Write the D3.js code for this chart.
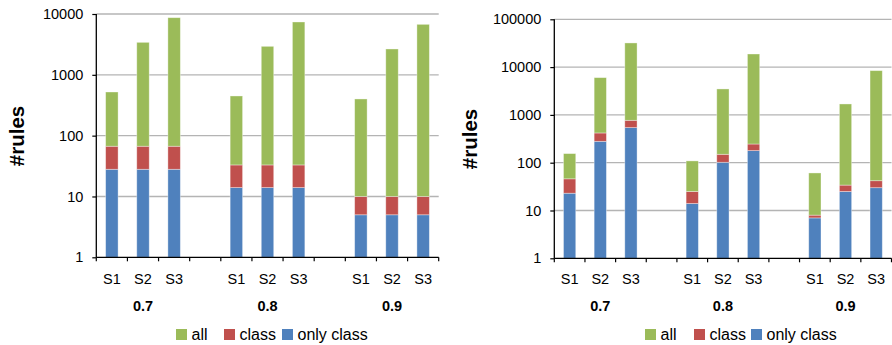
<!DOCTYPE html>
<html>
<head>
<meta charset="utf-8">
<script src="https://cdn.jsdelivr.net/npm/d3@7"></script>
<style>
  body { margin: 0; background: #fff; }
  svg text { font-family: "Liberation Sans", Arial, sans-serif; fill: #000; }
</style>
</head>
<body>
<div id="chart"></div>
<script>
//Categories
const thresholds = ["0.7", "0.8", "0.9"];
const strategies = ["S1", "S2", "S3"];
const seriesKeys = ["onlyClass", "classRules", "allRules"];
const seriesNames = { onlyClass: "only class", classRules: "class", allRules: "all" };
const legendOrder = ["allRules", "classRules", "onlyClass"];

//Left chart values (segments, stacked), order: 0.7 S1..S3, 0.8 S1..S3, 0.9 S1..S3
const leftOnlyClass = [28, 28, 28, 14, 14, 14, 5, 5, 5];
const leftClass = [39, 39, 39, 19, 19, 19, 5, 5, 5];
const leftAll = [455, 3353, 8633, 416, 2907, 7357, 391, 2650, 6750];
const leftTicks = [1, 10, 100, 1000, 10000];

//Right chart values
const rightOnlyClass = [23, 280, 542, 14, 102, 179, 7, 25, 30];
const rightClass = [23, 139, 229, 11, 48, 67, 1, 9, 12];
const rightAll = [109, 5601, 31229, 84, 3340, 18554, 53, 1659, 8388];
const rightTicks = [1, 10, 100, 1000, 10000, 100000];

//Colors
const color = d3.scaleOrdinal(seriesKeys, ["#4f81bd", "#c0504d", "#9bbb59"]);

const svg = d3.select("#chart").append("svg")
  .attr("width", 892)
  .attr("height", 345);

//Slot keys: 3 bars per group plus an empty slot between groups
const slots = [];
thresholds.forEach(function(t, gi) {
  strategies.forEach(function(s) { slots.push(t + "|" + s); });
  if (gi < thresholds.length - 1) slots.push("gap" + gi);
});

function buildRows(oc, cl, al) {
  const rows = [];
  thresholds.forEach(function(t, gi) {
    strategies.forEach(function(s, si) {
      const i = gi * strategies.length + si;
      rows.push({ key: t + "|" + s, onlyClass: oc[i], classRules: cl[i], allRules: al[i] });
    });
  });
  return rows;
}

function drawPanel(cfg) {
  const g = svg.append("g");

  const x = d3.scaleBand()
    .domain(slots)
    .range([cfg.left, cfg.right])
    .paddingInner(0.6)
    .paddingOuter(0.3);

  const y = d3.scaleLog()
    .domain([1, d3.max(cfg.ticks)])
    .range([cfg.bottom, cfg.top]);

  //Gridlines
  g.selectAll(".grid")
    .data(cfg.ticks.slice(1))
    .enter().append("line")
    .attr("x1", cfg.left)
    .attr("x2", cfg.right)
    .attr("y1", d => y(d))
    .attr("y2", d => y(d))
    .attr("stroke", "#b4b4b4")
    .attr("stroke-width", 1.3);

  //Bars
  const stacked = d3.stack().keys(seriesKeys)(cfg.rows);
  g.selectAll(".series")
    .data(stacked)
    .enter().append("g")
    .attr("fill", d => color(d.key))
    .selectAll("rect")
    .data(d => d)
    .enter().append("rect")
    .attr("x", d => x(d.data.key))
    .attr("width", x.bandwidth())
    .attr("y", d => y(d[1]))
    .attr("height", d => y(Math.max(d[0], 1)) - y(d[1]))
    .attr("stroke", "rgba(255,255,255,0.45)")
    .attr("stroke-width", 0.8);

  //Y axis
  const yAxis = d3.axisLeft(y)
    .tickValues(cfg.ticks)
    .tickFormat(d3.format("d"))
    .tickSize(4)
    .tickPadding(9);
  const ya = g.append("g")
    .attr("transform", "translate(" + cfg.left + ",0)")
    .call(yAxis);
  ya.select(".domain").attr("d", "M0," + cfg.top + "V" + cfg.bottom).attr("stroke", "#000").attr("stroke-width", 1.3);
  ya.selectAll(".tick line").attr("stroke", "#000").attr("stroke-width", 1.2);
  ya.selectAll(".tick text")
    .attr("font-size", 14.5)
    .attr("font-family", "Liberation Sans, Arial, sans-serif")
    .attr("fill", "#000");

  //X axis line and boundary ticks
  g.append("line")
    .attr("x1", cfg.left).attr("x2", cfg.right)
    .attr("y1", cfg.bottom).attr("y2", cfg.bottom)
    .attr("stroke", "#000").attr("stroke-width", 1.3);
  g.selectAll(".xtick")
    .data(d3.range(slots.length + 1))
    .enter().append("line")
    .attr("x1", i => x.range()[0] + i * x.step())
    .attr("x2", i => x.range()[0] + i * x.step())
    .attr("y1", cfg.bottom)
    .attr("y2", cfg.bottom + 4)
    .attr("stroke", "#000")
    .attr("stroke-width", 1.2);

  //Strategy labels
  g.selectAll(".slabel")
    .data(cfg.rows)
    .enter().append("text")
    .attr("x", d => x(d.key) + x.bandwidth() / 2)
    .attr("y", 284)
    .attr("text-anchor", "middle")
    .attr("font-size", 14.5)
    .text(d => d.key.split("|")[1]);

  //Threshold labels
  g.selectAll(".glabel")
    .data(thresholds)
    .enter().append("text")
    .attr("x", t => x(t + "|S2") + x.bandwidth() / 2)
    .attr("y", 311)
    .attr("text-anchor", "middle")
    .attr("font-size", 14.5)
    .attr("font-weight", "bold")
    .text(t => t);

  //Y axis title
  g.append("text")
    .attr("transform", "translate(" + cfg.titleX + "," + cfg.titleY + ") rotate(-90)")
    .attr("text-anchor", "middle")
    .attr("dy", "0.35em")
    .attr("font-size", 20.5)
    .attr("font-weight", "bold")
    .text("#rules");

  //Legend
  const legend = g.selectAll(".legend")
    .data(legendOrder)
    .enter().append("g")
    .attr("transform", (d, i) => "translate(" + (cfg.legendX + cfg.legendOffsets[i]) + ",329)");
  legend.append("rect")
    .attr("width", 11)
    .attr("height", 11)
    .attr("fill", d => color(d));
  legend.append("text")
    .attr("x", 15.5)
    .attr("y", 10.5)
    .attr("font-size", 16)
    .text(d => seriesNames[d]);
}

drawPanel({
  rows: buildRows(leftOnlyClass, leftClass, leftAll),
  ticks: leftTicks,
  left: 96.3, right: 438.7, top: 14, bottom: 257.3,
  titleX: 17, titleY: 136,
  legendX: 176, legendOffsets: [0, 48, 106]
});

drawPanel({
  rows: buildRows(rightOnlyClass, rightClass, rightAll),
  ticks: rightTicks,
  left: 554.3, right: 891.5, top: 19.3, bottom: 258.3,
  titleX: 470, titleY: 139,
  legendX: 645, legendOffsets: [0, 49, 106]
});
</script>
</body>
</html>
